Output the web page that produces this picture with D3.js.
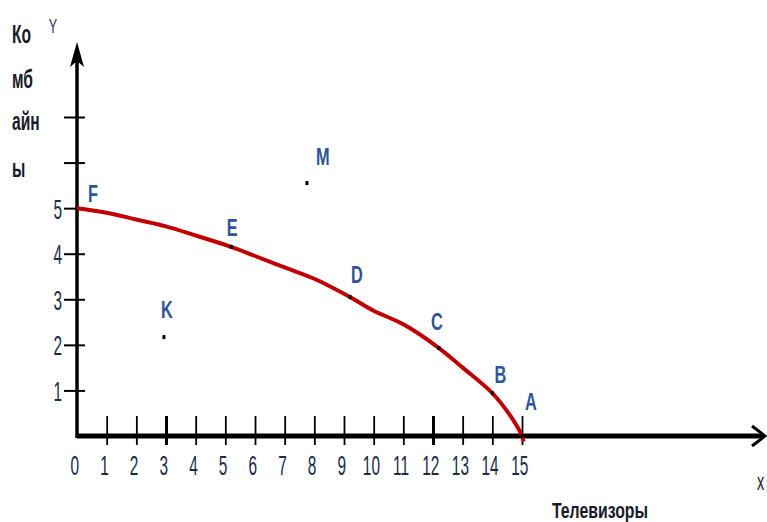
<!DOCTYPE html>
<html>
<head>
<meta charset="utf-8">
<script src="https://cdn.jsdelivr.net/npm/d3@7"></script>
<style>
  body { margin: 0; background: #fff; }
  svg { display: block; }
  text { font-family: "Liberation Sans", Arial, sans-serif; }
</style>
</head>
<body>
<svg id="chart" width="767" height="522"></svg>
<script>
//Tick values of both axes
var xTicks = [0, 1, 2, 3, 4, 5, 6, 7, 8, 9, 10, 11, 12, 13, 14, 15];
var yTicks = [1, 2, 3, 4, 5, 6, 7];
var yLabelled = [1, 2, 3, 4, 5];

//Production possibilities curve
var curveX = [0, 1, 2, 3, 4, 5.2, 6, 7, 8, 9.2, 10, 11, 12.2, 13, 14, 14.6, 15, 15.05];
var curveY = [5, 4.9, 4.75, 4.6, 4.4, 4.15, 3.95, 3.7, 3.45, 3.05, 2.75, 2.45, 1.93, 1.5, 0.94, 0.45, 0, -0.12];

//Named points
var pointNames = ["F", "E", "D", "C", "B", "A", "K", "M"];
var pointX = [0, 5.2, 9.2, 12.2, 14, 15, 2.93, 7.75];
var pointY = [5, 4.15, 3.05, 1.93, 0.94, 0, 2.17, 5.55];

var yTitle = ["Ко", "мб", "айн", "ы"];

var svg = d3.select("#chart");

let x = d3.scaleLinear().domain([0, 15]).range([77, 522]);
let y = d3.scaleLinear().domain([0, 7]).range([436, 117]);

let sx = 0.55; //text is squeezed sideways in the original

//X axis
let xAxis = svg.append("g")
    .attr("transform", "translate(0," + y(0) + ")")
    .call(d3.axisBottom(x).tickValues(xTicks).tickFormat(d3.format("d")));
xAxis.select(".domain").remove();
xAxis.selectAll(".tick line")
    .attr("y1", -20).attr("y2", 9)
    .attr("stroke", "#000")
    .attr("stroke-width", d => (d === 3 || d === 12) ? 3 : 1.8)
    .attr("display", d => d === 0 ? "none" : null);
xAxis.selectAll(".tick text")
    .attr("y", 39).attr("dy", 0)
    .attr("x", -5)
    .attr("transform", "scale(" + sx + ",1)")
    .attr("font-size", 28)
    .attr("fill", "#1c2b4a");

//Y axis
let yAxis = svg.append("g")
    .attr("transform", "translate(" + x(0) + ",0)")
    .call(d3.axisLeft(y).tickValues(yTicks)
        .tickFormat(d => yLabelled.includes(d) ? d : ""));
yAxis.select(".domain").remove();
yAxis.selectAll(".tick line")
    .attr("x1", -13).attr("x2", 8)
    .attr("stroke", "#000").attr("stroke-width", 2);
yAxis.selectAll(".tick text")
    .attr("x", -15 / sx).attr("dy", 10)
    .attr("transform", "scale(" + sx + ",1)")
    .attr("font-size", 28)
    .attr("fill", "#1c2b4a");

//Axis lines with arrows
svg.append("line")
    .attr("x1", x(0)).attr("y1", y(0))
    .attr("x2", 763).attr("y2", y(0))
    .attr("stroke", "#000").attr("stroke-width", 5);
svg.append("path")
    .attr("d", "M752,426 L765,436 L752,446")
    .attr("fill", "none").attr("stroke", "#000").attr("stroke-width", 3);

svg.append("line")
    .attr("x1", x(0)).attr("y1", y(0) + 2)
    .attr("x2", x(0)).attr("y2", 55)
    .attr("stroke", "#000").attr("stroke-width", 3.5);
svg.append("path")
    .attr("d", "M77,42 L70,67 L77,61 L84,67 Z")
    .attr("fill", "#000");

//Curve
let line = d3.line()
    .x((d, i) => x(curveX[i]))
    .y((d, i) => y(curveY[i]))
    .curve(d3.curveCatmullRom);

svg.append("path")
    .attr("d", line(curveX))
    .attr("fill", "none")
    .attr("stroke", "#c00000")
    .attr("stroke-width", 4);

//Points
svg.selectAll(".pt")
    .data(pointNames)
    .enter()
    .append("rect")
    .attr("class", "pt")
    .attr("x", (d, i) => x(pointX[i]) - 1.5)
    .attr("y", (d, i) => y(pointY[i]) - 2)
    .attr("width", 3).attr("height", 4)
    .attr("fill", "#000")
    .attr("display", d => d === "F" ? "none" : null);

//Point labels, offsets relative to each point
let labelDx = [16, 1, 7, -2, 8, 9, 3, 16];
let labelDy = [-6, -11, -14, -18, -10, -26, -19, -18];
svg.selectAll(".plabel")
    .data(pointNames)
    .enter()
    .append("text")
    .attr("class", "plabel")
    .attr("transform", (d, i) => "translate(" + (x(pointX[i]) + labelDx[i]) + "," + (y(pointY[i]) + labelDy[i]) + ") scale(0.68,1)")
    .attr("text-anchor", "middle")
    .attr("font-size", 24)
    .attr("font-weight", "bold")
    .attr("fill", "#2f5597")
    .text(d => d);

//Axis titles
svg.selectAll(".ytitle")
    .data(yTitle)
    .enter()
    .append("text")
    .attr("class", "ytitle")
    .attr("transform", (d, i) => "translate(12," + [43, 88, 130, 177][i] + ") scale(0.6,1)")
    .attr("font-size", 26)
    .attr("font-weight", "bold")
    .attr("fill", "#1a1a2a")
    .text(d => d);

svg.append("text")
    .attr("transform", "translate(53,33) scale(0.6,1)")
    .attr("text-anchor", "middle")
    .attr("font-size", 21)
    .attr("fill", "#3a2a5a")
    .text("Y");

svg.append("text")
    .attr("transform", "translate(757,490) scale(0.6,1)")
    .attr("font-size", 24)
    .attr("fill", "#1a1a2a")
    .text("x");

svg.append("text")
    .attr("transform", "translate(600,518) scale(0.72,1)")
    .attr("text-anchor", "middle")
    .attr("font-size", 22)
    .attr("font-weight", "bold")
    .attr("fill", "#1a1a2a")
    .text("Телевизоры");
</script>
</body>
</html>
